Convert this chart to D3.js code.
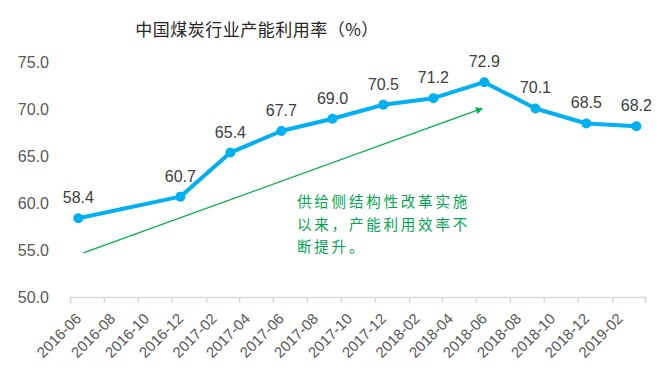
<!doctype html>
<html>
<meta http-equiv="Content-type" content="text/html; charset=utf-8" />
<head>
  <title>中国煤炭行业产能利用率</title>
  <script type="text/javascript" src="https://cdn.jsdelivr.net/npm/d3@7/dist/d3.min.js"></script>
  <style>
  body{margin:0;background:#fff;}
  text{font-family:"Liberation Sans", Arial, sans-serif;}
  .cjk{font-family:"Noto Sans CJK SC", sans-serif;}
  </style>
</head>
<body>
<script>
    // 季度数据
    var months = ['2016-06','2016-12','2017-03','2017-06','2017-09','2017-12',
                  '2018-03','2018-06','2018-09','2018-12','2019-03'];
    var rates = [58.4, 60.7, 65.4, 67.7, 69.0, 70.5, 71.2, 72.9, 70.1, 68.5, 68.2];
    var yTicks = [50, 55, 60, 65, 70, 75];
    var note = ['供给侧结构性改革实施', '以来，产能利用效率不', '断提升。'];

    var W = 670, H = 380;
    var svg = d3.select('body').append('svg')
        .attr('width', W)
        .attr('height', H);

    var parse = d3.timeParse('%Y-%m');
    var fmt = d3.timeFormat('%Y-%m');

    var x = d3.scaleTime()
        .domain([parse('2016-06'), parse('2019-04')])
        .range([70, 645]);
    var y = d3.scaleLinear()
        .domain([50, 75])
        .range([297, 62.5]);

    function mid(m){
        var d = parse(m);
        return (x(d) + x(d3.timeMonth.offset(d, 1))) / 2;
    }

    // title
    svg.append('text')
        .attr('class', 'cjk')
        .attr('x', 257).attr('y', 36)
        .attr('text-anchor', 'middle')
        .attr('font-size', 17)
        .attr('letter-spacing', 0.5)
        .attr('fill', '#262626')
        .text('中国煤炭行业产能利用率（%）');

    // y labels
    svg.append('g').selectAll('text').data(yTicks).enter().append('text')
        .attr('x', 49)
        .attr('y', function(d){return y(d);})
        .attr('dy', '0.35em')
        .attr('text-anchor', 'end')
        .attr('font-size', 16)
        .attr('fill', '#595959')
        .text(function(d){return d.toFixed(1);});

    // x axis, ticks every two months
    var tickDates = d3.timeMonth.range(parse('2016-06'), parse('2019-05'), 2);
    var xAxis = d3.axisBottom(x)
        .tickValues(tickDates)
        .tickSize(6)
        .tickFormat('');
    var gx = svg.append('g')
        .attr('transform', 'translate(0,297)')
        .call(xAxis);
    gx.select('.domain').attr('stroke', '#d9d9d9').attr('stroke-width', 1.5);
    gx.selectAll('.tick line').attr('stroke', '#d9d9d9').attr('stroke-width', 1.5);

    svg.append('g').selectAll('text').data(tickDates.slice(0, -1)).enter().append('text')
        .attr('transform', function(d){
            return 'translate(' + mid(fmt(d)) + ',316) rotate(-45)';
        })
        .attr('text-anchor', 'end')
        .attr('dy', '0.35em')
        .attr('font-size', 15)
        .attr('fill', '#595959')
        .text(function(d){return fmt(d);});

    // green arrow
    var defs = svg.append('defs');
    defs.append('marker')
        .attr('id', 'arr')
        .attr('viewBox', '0 0 10 10')
        .attr('refX', 9).attr('refY', 5)
        .attr('markerWidth', 9).attr('markerHeight', 7)
        .attr('markerUnits', 'userSpaceOnUse')
        .attr('orient', 'auto')
        .append('path')
        .attr('d', 'M0,0 L10,5 L0,10 z')
        .attr('fill', '#00B050');
    svg.append('line')
        .attr('x1', mid('2016-06') + 5).attr('y1', y(54.7))
        .attr('x2', mid('2018-06') - 2).attr('y2', y(70.1))
        .attr('stroke', '#00B050')
        .attr('stroke-width', 1.3)
        .attr('marker-end', 'url(#arr)');

    // note text
    svg.append('g').selectAll('text').data(note).enter().append('text')
        .attr('class', 'cjk')
        .attr('x', 297)
        .attr('y', function(d, i){return 207 + i * 22.5;})
        .attr('font-size', 14.5)
        .attr('letter-spacing', 2.8)
        .attr('fill', '#00A550')
        .text(function(d){return d;});

    // line
    var line = d3.line()
        .x(function(d, i){return mid(months[i]);})
        .y(function(d){return y(d);});
    svg.append('path')
        .datum(rates)
        .attr('d', line)
        .attr('fill', 'none')
        .attr('stroke', '#00B0F0')
        .attr('stroke-width', 4)
        .attr('stroke-linejoin', 'round');

    svg.append('g').selectAll('circle').data(rates).enter().append('circle')
        .attr('cx', function(d, i){return mid(months[i]);})
        .attr('cy', function(d){return y(d);})
        .attr('r', 5)
        .attr('fill', '#00B0F0');

    svg.append('g').selectAll('text').data(rates).enter().append('text')
        .attr('x', function(d, i){return mid(months[i]);})
        .attr('y', function(d){return y(d) - 15;})
        .attr('text-anchor', 'middle')
        .attr('font-size', 16)
        .attr('fill', '#404040')
        .text(function(d){return d.toFixed(1);});
</script>
</body>
</html>
